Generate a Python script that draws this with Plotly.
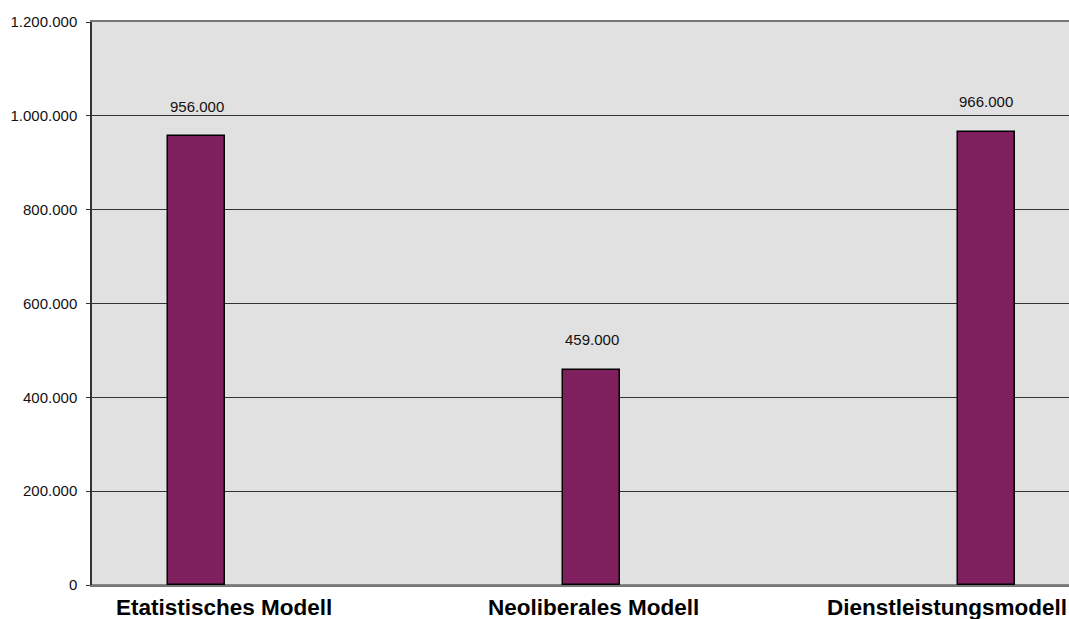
import plotly.graph_objects as go

categories = ["Etatistisches Modell", "Neoliberales Modell", "Dienstleistungsmodell"]
values = [956000, 459000, 966000]
value_labels = ["956.000", "459.000", "966.000"]
tick_vals = [0, 200000, 400000, 600000, 800000, 1000000, 1200000]
tick_text = ["0", "200.000", "400.000", "600.000", "800.000", "1.000.000", "1.200.000"]

xpos = list(range(len(categories)))

FONT = "Liberation Sans, Arial"

fig = go.Figure()
fig.add_trace(go.Bar(
    x=xpos, y=values, width=0.1443,
    marker=dict(color="#7f1f5e", line=dict(color="#000000", width=1.5)),
    hoverinfo="skip", showlegend=False,
))

# value labels
for xi, v, t in zip(xpos, values, value_labels):
    fig.add_annotation(x=xi, y=v, xref="x", yref="y", text=t, showarrow=False,
                       yanchor="middle", yshift=30,
                       font=dict(family=FONT, size=15, color="#111"))

# category labels
label_shift = [27, 2, 0]
for i, (xi, c) in enumerate(zip(xpos, categories)):
    if i == len(categories) - 1:
        fig.add_annotation(x=1, y=0, xref="paper", yref="paper", text="<b>%s</b>" % c,
                           showarrow=False, xanchor="right", yanchor="top", yshift=-8,
                           font=dict(family=FONT, size=22.5, color="#000"))
    else:
        fig.add_annotation(x=xi, y=0, xref="x", yref="paper", text="<b>%s</b>" % c,
                           showarrow=False, xanchor="center", yanchor="top", yshift=-8,
                           xshift=label_shift[i],
                           font=dict(family=FONT, size=22.5, color="#000"))

fig.update_layout(
    width=1069, height=619,
    margin=dict(l=92, r=0, t=22, b=34),
    paper_bgcolor="white", plot_bgcolor="#e1e1e1",
    bargap=0,
    xaxis=dict(range=[-0.2646, 2.2089], showticklabels=False, showgrid=False,
               zeroline=False, showline=True, mirror=True, linecolor="#777777",
               linewidth=1.5, ticks=""),
    yaxis=dict(range=[0, 1200000], tickvals=tick_vals, ticktext=tick_text,
               showgrid=True, gridcolor="#333333", gridwidth=1,
               zeroline=True, zerolinecolor="#888888", zerolinewidth=2,
               showline=True, linecolor="#333333", linewidth=1.5,
               ticks="outside", ticklen=4, tickcolor="#333333",
               ticklabelstandoff=6,
               tickfont=dict(family=FONT, size=15, color="#111")),
)

fig.write_html("out.html", config={"displayModeBar": False},
               post_script="document.body.style.margin='0';document.body.style.overflow='hidden';")
